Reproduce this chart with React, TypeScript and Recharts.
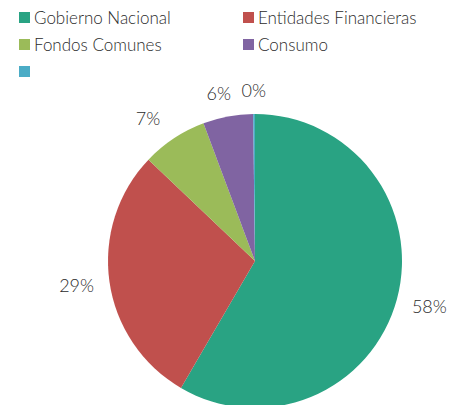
import { PieChart, Pie, Cell } from "recharts";

const categories = [
  "Gobierno Nacional",
  "Entidades Financieras",
  "Fondos Comunes",
  "Consumo",
  "",
];
const shares = [58.4, 28.7, 7.2, 5.5, 0.2];
const colors = ["#29A383", "#C0504D", "#9BBB59", "#8064A2", "#4BACC6"];

const data = categories.map((name, i) => ({ name, value: shares[i] }));

const RADIAN = Math.PI / 180;
const FONT = "Lato, 'Open Sans', sans-serif";
const TEXT = "#2b2b2b";

// Excel-style outside labels: text box sits just off the rim
function renderLabel(props: any) {
  const { cx, cy, midAngle, outerRadius, value } = props;
  const cos = Math.cos(-midAngle * RADIAN);
  const sin = Math.sin(-midAngle * RADIAN);
  const r = outerRadius + 16;
  const halfW = 17;
  const halfH = 8;
  const x = cx + r * cos + halfW * Math.sign(cos) * Math.min(1, Math.abs(cos) * 2);
  const y = cy + r * sin + halfH * sin;
  return (
    <text
      x={x}
      y={y}
      textAnchor="middle"
      dominantBaseline="central"
      fill={TEXT}
      fontSize={18}
      fontWeight={300}
      fontFamily={FONT}
    >
      {`${Math.round(value)}%`}
    </text>
  );
}

function LegendBox() {
  return (
    <div
      style={{
        position: "absolute",
        left: 19,
        top: 7,
        width: 430,
        display: "grid",
        gridTemplateColumns: "224px 200px",
        rowGap: 6,
        fontFamily: FONT,
        fontSize: 17,
        fontWeight: 300,
        color: TEXT,
      }}
    >
      {categories.map((name, i) => (
        <div key={i} style={{ display: "flex", alignItems: "center", height: 21 }}>
          <span
            style={{
              width: 11,
              height: 11,
              background: colors[i],
              marginRight: 4,
              display: "inline-block",
            }}
          />
          <span>{name}</span>
        </div>
      ))}
    </div>
  );
}

export default function App() {
  return (
    <div style={{ position: "absolute", left: 0, top: 0, width: 454, height: 405, background: "#fff" }}>
      <PieChart width={454} height={405} margin={{ top: 0, right: 0, bottom: 0, left: 0 }}>
        <Pie
          data={data}
          dataKey="value"
          nameKey="name"
          cx={255}
          cy={261}
          outerRadius={147}
          startAngle={90}
          endAngle={-270}
          stroke="none"
          label={renderLabel}
          labelLine={false}
          isAnimationActive={false}
        >
          {data.map((d, i) => (
            <Cell key={d.name + i} fill={colors[i]} />
          ))}
        </Pie>
      </PieChart>
      <LegendBox />
    </div>
  );
}
